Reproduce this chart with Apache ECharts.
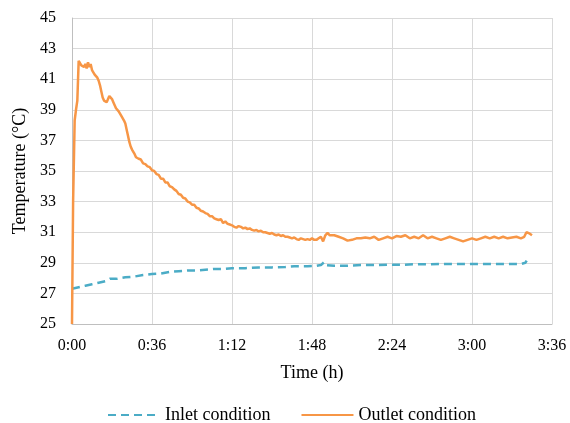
<!DOCTYPE html>
<html>
<head>
<meta charset="utf-8">
<script src="https://cdn.jsdelivr.net/npm/echarts@6/dist/echarts.min.js"></script>
<style>
  html, body { margin: 0; padding: 0; background: #fff; }
  #chart { width: 570px; height: 423px; }
</style>
</head>
<body>
<div id="chart"></div>
<script>
// [elapsed time (min), air temperature (°C)]
const outletData = [
  [0, 25.0], [0.5, 33.0], [1.2, 38.3], [1.8, 39.0], [2.4, 39.6], [3.0, 42.2], [3.6, 42.1], [4.2, 41.9], [4.8, 42.0], [5.4, 41.8],
  [6.0, 42.0], [6.6, 41.7], [7.2, 42.1], [7.8, 41.8], [8.4, 42.0], [9.0, 41.6], [9.6, 41.7], [10.2, 41.3], [10.8, 41.4], [11.4, 41.1],
  [12.0, 40.9], [12.6, 40.6], [13.2, 40.2], [13.8, 39.8], [14.4, 39.6], [15.0, 39.7], [15.6, 39.5], [16.2, 39.6], [16.8, 39.9], [17.4, 40.0],
  [18.0, 39.7], [18.6, 39.5], [19.2, 39.3], [19.8, 39.1], [20.4, 39.2], [21.0, 38.9], [21.6, 38.8], [22.2, 38.6], [22.8, 38.5], [23.4, 38.3],
  [24.0, 38.1], [24.6, 37.7], [25.2, 37.3], [25.8, 36.9], [26.4, 36.6], [27.0, 36.4], [27.6, 36.3], [28.2, 36.1], [28.8, 35.9], [29.4, 36.0],
  [30, 35.8], [31, 35.75], [32, 35.5], [33, 35.45], [34, 35.3], [35, 35.25], [36, 35.05], [37, 35.0], [38, 34.8], [39, 34.75],
  [40, 34.5], [41, 34.5], [42, 34.25], [43, 34.25], [44, 34.0], [45, 33.95], [46, 33.8], [47, 33.7], [48, 33.5], [49, 33.45],
  [50, 33.25], [51, 33.2], [52, 33.0], [53, 32.95], [54, 32.8], [55, 32.8], [56, 32.6], [57, 32.55], [58, 32.4], [59, 32.35],
  [60, 32.25], [61, 32.2], [62, 32.05], [63, 32.05], [64, 31.9], [65, 31.85], [66, 31.8], [67, 31.85], [68, 31.6], [69, 31.7],
  [70, 31.55], [71, 31.5], [72, 31.45], [73, 31.35], [74, 31.3], [75, 31.4], [76, 31.35], [77, 31.25], [78, 31.3], [79, 31.2],
  [80, 31.25], [81, 31.15], [82, 31.1], [83, 31.15], [84, 31.05], [85, 31.1], [86, 31.0], [87, 31.0], [88, 30.95], [89, 30.9],
  [90, 30.95], [91, 30.85], [92, 30.8], [93, 30.85], [94, 30.75], [95, 30.8], [96, 30.7], [97, 30.7], [98, 30.65], [99, 30.6],
  [100, 30.65], [101, 30.55], [102, 30.5], [103, 30.6], [104, 30.55], [105, 30.5], [106, 30.55], [107, 30.5], [108, 30.6], [109, 30.5],
  [110, 30.5], [111, 30.6], [112, 30.7], [113, 30.4], [114, 30.8], [115, 30.95], [116, 30.8], [118, 30.8], [120, 30.7], [122, 30.6],
  [124, 30.45], [126, 30.5], [128, 30.6], [130, 30.6], [132, 30.65], [134, 30.6], [136, 30.7], [138, 30.5], [140, 30.6], [142, 30.7],
  [144, 30.6], [146, 30.75], [148, 30.7], [150, 30.8], [152, 30.6], [154, 30.7], [156, 30.6], [158, 30.8], [160, 30.6], [162, 30.7],
  [164, 30.6], [166, 30.5], [168, 30.6], [170, 30.7], [172, 30.6], [174, 30.5], [176, 30.4], [178, 30.5], [180, 30.6], [182, 30.5],
  [184, 30.6], [186, 30.7], [188, 30.6], [190, 30.7], [192, 30.6], [194, 30.7], [196, 30.6], [198, 30.65], [200, 30.7], [202, 30.6],
  [203.5, 30.7], [204.5, 31.0], [205.3, 31.1], [206, 30.9], [207, 30.8]
];

const inletData = [
  [0, 27.3], [3, 27.4], [6, 27.5], [9, 27.6], [12, 27.7], [15, 27.8], [17, 27.95], [20, 27.95], [24, 28.05], [28, 28.1],
  [32, 28.2], [36, 28.27], [40, 28.3], [44, 28.4], [48, 28.45], [52, 28.5], [56, 28.5], [60, 28.55], [64, 28.6], [68, 28.6],
  [72, 28.65], [78, 28.65], [84, 28.7], [90, 28.7], [96, 28.72], [100, 28.77], [106, 28.78], [110, 28.8], [112, 28.85], [113.5, 29.05],
  [114.5, 28.85], [118, 28.8], [124, 28.8], [130, 28.85], [136, 28.85], [142, 28.88], [148, 28.87], [154, 28.9], [160, 28.9], [166, 28.93],
  [172, 28.92], [178, 28.92], [184, 28.93], [190, 28.92], [196, 28.92], [202, 28.92], [204, 29.0], [204.6, 29.15]
];

const seriesNames = ['Inlet condition', 'Outlet condition'];
const xAxisTitle = 'Time (h)';
const yAxisTitle = 'Temperature (°C)';

const FONT = '"Liberation Serif", "Times New Roman", serif';

// minutes -> h:mm
function fmtTime(min) {
  const h = Math.floor(min / 60);
  const m = Math.round(min % 60);
  return h + ':' + (m < 10 ? '0' + m : m);
}

const chart = echarts.init(document.getElementById('chart'), null, { renderer: 'canvas' });

chart.setOption({
  animation: false,
  backgroundColor: '#ffffff',
  grid: { left: 72, right: 18, top: 18, bottom: 99, containLabel: false },
  legend: {
    left: 102,
    top: 401,
    itemWidth: 52,
    itemHeight: 10,
    itemGap: 30,
    itemStyle: { opacity: 0 },
    textStyle: { fontFamily: FONT, fontSize: 18, color: '#000' },
    data: seriesNames
  },
  xAxis: {
    type: 'value',
    min: 0,
    max: 216,
    interval: 36,
    name: xAxisTitle,
    nameLocation: 'middle',
    nameGap: 40,
    nameTextStyle: { fontFamily: FONT, fontSize: 18, color: '#000' },
    axisLine: { show: true, lineStyle: { color: '#BFBFBF', width: 1 } },
    axisTick: { show: false },
    axisLabel: {
      fontFamily: FONT, fontSize: 16, color: '#000', margin: 14,
      formatter: fmtTime
    },
    splitLine: { show: true, lineStyle: { color: '#D9D9D9', width: 1 } }
  },
  yAxis: {
    type: 'value',
    min: 25,
    max: 45,
    interval: 2,
    name: yAxisTitle,
    nameLocation: 'middle',
    nameGap: 42,
    nameTextStyle: { fontFamily: FONT, fontSize: 18, color: '#000' },
    axisLine: { show: true, lineStyle: { color: '#BFBFBF', width: 1 } },
    axisTick: { show: false },
    axisLabel: { fontFamily: FONT, fontSize: 16, color: '#000', margin: 16 },
    splitLine: { show: true, lineStyle: { color: '#D9D9D9', width: 1 } }
  },
  series: [
    {
      name: seriesNames[0],
      type: 'line',
      data: inletData,
      symbol: 'none',
      showSymbol: false,
      color: '#4BACC6',
      lineStyle: { color: '#4BACC6', width: 2.5, type: [8, 5] },
      z: 3
    },
    {
      name: seriesNames[1],
      type: 'line',
      data: outletData,
      symbol: 'none',
      showSymbol: false,
      color: '#F79646',
      lineStyle: { color: '#F79646', width: 2.5 },
      z: 4
    }
  ]
});
</script>
</body>
</html>
